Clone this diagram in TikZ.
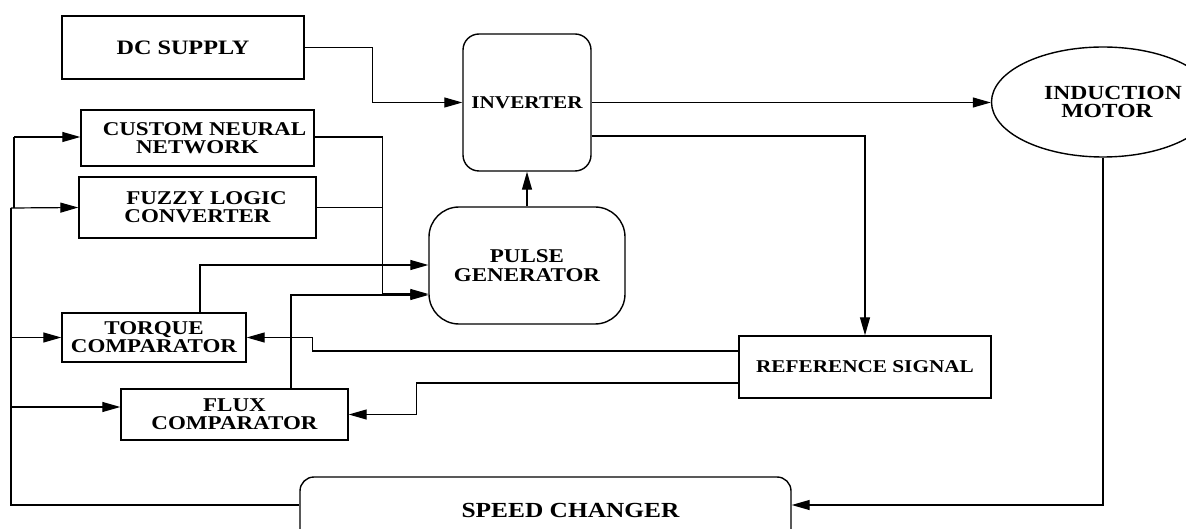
\documentclass[tikz,border=0pt]{standalone}
\usepackage{fontspec}
\setmainfont{Liberation Serif}[FakeStretch=1.18]
\usetikzlibrary{arrows.meta,shapes.geometric}
\newcommand\blocktext{\fontsize{19.5}{18}\selectfont\bfseries}
\newcommand\smallblocktext{\fontsize{18}{18}\selectfont\bfseries}
\begin{document}
\begin{tikzpicture}[x=1pt,y=1pt,
  block/.style={draw, line width=1.4pt, inner sep=0pt, align=center, font=\blocktext},
  roundblock/.style={block, rounded corners=#1},
  wire/.style={line width=1.2pt},
  arr/.style={wire, -{Triangle[length=18pt,width=10pt]}}
]
\useasboundingbox (0,0) rectangle (1186,-529);
\fill[white] (0,0) rectangle (1186,-529);
\clip (0,0) rectangle (1186,-529);

% blocks
\node[block, minimum width=242pt, minimum height=63pt, font=\fontsize{20.5}{18}\selectfont\bfseries]
  (dc) at (183,-47.5) {DC SUPPLY};
\node[roundblock=16pt, minimum width=128pt, minimum height=137pt, font=\smallblocktext]
  (inv) at (527,-102.5) {INVERTER};
\node[block, minimum width=233pt, minimum height=56pt] (cnn) at (197.5,-138)
  {\hspace*{14pt}CUSTOM NEURAL\\NETWORK};
\node[block, minimum width=237pt, minimum height=61pt] (flc) at (197.5,-207.5)
  {\hspace*{18pt}FUZZY LOGIC\\CONVERTER};
\node[roundblock=30pt, minimum width=196pt, minimum height=117pt, font=\fontsize{19.5}{18.5}\selectfont\bfseries]
  (pg) at (527,-265.5) {PULSE\\GENERATOR};
\node[block, minimum width=184pt, minimum height=49pt] (tc) at (154,-337.5) {TORQUE\\COMPARATOR};
\node[block, minimum width=227pt, minimum height=51pt] (fc) at (234.5,-414.5) {FLUX\\COMPARATOR};
\node[block, minimum width=252pt, minimum height=62pt, font=\smallblocktext]
  (rs) at (865,-367) {REFERENCE SIGNAL};
\node[block, shape=ellipse, minimum width=210pt, minimum height=110pt, font=\fontsize{20}{18}\selectfont\bfseries]
  (im) at (1103,-102) {\hspace*{20pt}INDUCTION\\\hspace*{8pt}MOTOR};
\node[roundblock=14pt, minimum width=491pt, minimum height=66pt, font=\fontsize{21.5}{18}\selectfont\bfseries]
  (sc) at (545.5,-510) {\hspace*{50pt}SPEED CHANGER};

% feedback bus on the left
\coordinate (busT) at (14,-137);
\coordinate (busA) at (11,-208);
\coordinate (fcin) at ([yshift=7.5pt]fc.west);

% power path
\draw[arr] (dc.east) -- ++(68,0) |- (inv.west);
\draw[arr] (inv.east) -- (inv.east -| im.west);
\draw[arr] ([yshift=-33.5pt]inv.east) -| (rs.north);
\draw[arr] (pg.north) -- (inv.south);

% controller outputs into the pulse generator
\draw[arr] ([yshift=1pt]cnn.east) -- ++(68,0) |- ([yshift=-28.5pt]pg.west);
\draw[wire] (flc.east) -- ++(66,0);
\draw[arr] ([xshift=46pt]tc.north) |- ([yshift=0.5pt]pg.west);
\draw[arr] ([xshift=56.5pt]fc.north) |- ([yshift=-29.5pt]pg.west);

% reference signal to the comparators
\draw[arr] ([yshift=16pt]rs.west) -- ++(-426,0) |- (tc.east);
\draw[arr] ([yshift=-16pt]rs.west) -- ++(-322,0) |- (fc.east);

% speed feedback
\draw[arr] (im.south) |- ([yshift=5pt]sc.east);
\draw[wire] ([yshift=5pt]sc.west) -| (busA);
\draw[wire] (busT) -- (busT |- busA);
\draw[arr] (busT) -- (busT -| cnn.west);
\draw[arr] (busA) -- (flc.west);
\draw[arr] (busA |- tc.west) -- (tc.west);
\draw[arr] (busA |- fcin) -- (fcin);
\end{tikzpicture}
\end{document}
